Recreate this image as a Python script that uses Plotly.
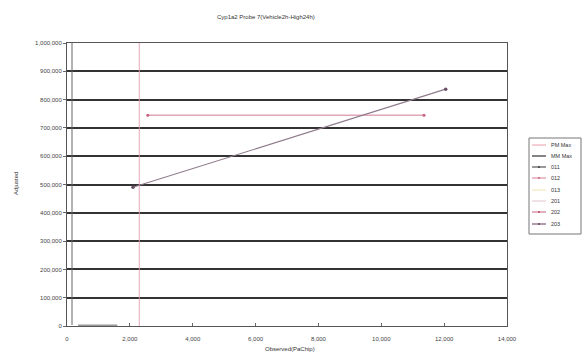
import plotly.graph_objects as go

# ---- data -------------------------------------------------------------
title_text = "Cyp1a2 Probe 7(Vehicle2h-High24h)"
x_title = "Observed(PaChip)"
y_title = "Adjusted"

legend_names = ["PM Max", "MM Max", "011", "012", "013", "201", "202", "203"]
legend_colors = ["#e8a0ac", "#333333", "#555555", "#d77a92", "#f0e6b0", "#e2c4d0", "#c8607e", "#7a5a78"]

pm_max_x = [2300, 2300]
pm_max_y = [0, 1000000]

s011_x = [350, 900, 1600]
s011_y = [3000, 4000, 3000]

s202_x = [2570, 11360]
s202_y = [745000, 745000]

s203_x = [2100, 12050]
s203_y = [490000, 837000]

x_ticks = list(range(0, 14001, 2000))
y_ticks = list(range(0, 1000001, 100000))

# ---- layout geometry (pixels) -------------------------------------------
W, H = 582, 355
L, R, T, B = 67, 75, 43, 29
PW, PH = W - L - R, H - T - B


def px(xp):
    return (xp - L) / PW


def py(yp):
    return (H - B - yp) / PH


font = dict(family="Liberation Sans, Arial, sans-serif", size=6, color="#444444")

fig = go.Figure()

fig.add_trace(go.Scatter(x=pm_max_x, y=pm_max_y, mode="lines",
                         line=dict(color="#e4a2b0", width=0.9), name="PM Max"))
fig.add_trace(go.Scatter(x=s011_x, y=s011_y, mode="lines",
                         line=dict(color="#666666", width=1), name="011"))
fig.add_trace(go.Scatter(x=s202_x, y=s202_y, mode="lines+markers",
                         line=dict(color="#d07a92", width=1),
                         marker=dict(size=3, color="#c8607e"), name="202"))
fig.add_trace(go.Scatter(x=s203_x, y=s203_y, mode="lines+markers",
                         line=dict(color="#8e7a8c", width=1.1),
                         marker=dict(size=3.5, color="#6a5066"), name="203"))

fig.update_xaxes(range=[0, 14000], tickvals=x_ticks,
                 ticktext=[f"{v:,}" for v in x_ticks],
                 showgrid=False, zeroline=False, showline=True, mirror=True,
                 linecolor="#555555", linewidth=1, ticks="inside", ticklen=3,
                 tickcolor="#666666", tickfont=font, automargin=False,
                 ticklabelstandoff=7)
fig.update_yaxes(range=[0, 1000000], tickvals=y_ticks,
                 ticktext=[f"{v:,}" for v in y_ticks],
                 showgrid=True, gridcolor="#333333", gridwidth=1.5,
                 zeroline=False, showline=True, mirror=True,
                 linecolor="#555555", linewidth=1, ticks="outside", ticklen=3,
                 tickcolor="#666666", tickfont=font, automargin=False)

shapes = []
annotations = []

# inner axis line alongside the plot border
shapes.append(dict(type="line", xref="paper", yref="paper",
                   x0=px(72), x1=px(72), y0=py(325), y1=py(43),
                   line=dict(color="#666666", width=1)))

# legend box
lx0, lx1, ly0, ly1 = 529, 581, 138, 234
shapes.append(dict(type="rect", xref="paper", yref="paper",
                   x0=px(lx0), x1=px(lx1), y0=py(ly1), y1=py(ly0),
                   line=dict(color="#777777", width=1), fillcolor="white"))
row_y = [145, 156, 167, 178, 190, 201, 212, 224]
markers_on = {"011", "012", "202", "203"}
for name, col, yy in zip(legend_names, legend_colors, row_y):
    shapes.append(dict(type="line", xref="paper", yref="paper",
                       x0=px(532), x1=px(546), y0=py(yy), y1=py(yy),
                       line=dict(color=col, width=1.2 if name in ("MM Max", "011", "203") else 1)))
    if name in markers_on:
        shapes.append(dict(type="rect", xref="paper", yref="paper",
                           x0=px(538), x1=px(540), y0=py(yy + 1), y1=py(yy - 1),
                           line=dict(width=0), fillcolor=col))
    annotations.append(dict(text=name, xref="paper", yref="paper",
                            x=px(549), y=py(yy), xanchor="left", yanchor="middle",
                            showarrow=False, font=dict(family=font["family"], size=5.5, color="#333333")))

annotations.append(dict(text=title_text, xref="paper", yref="paper",
                        x=px(266), y=py(17), xanchor="center", yanchor="middle",
                        showarrow=False, font=dict(family=font["family"], size=6, color="#333333")))
annotations.append(dict(text=y_title, xref="paper", yref="paper",
                        x=px(16), y=py(184), xanchor="center", yanchor="middle",
                        textangle=-90, showarrow=False,
                        font=dict(family=font["family"], size=6, color="#333333")))
annotations.append(dict(text=x_title, xref="paper", yref="paper",
                        x=px(290), y=py(349), xanchor="center", yanchor="middle",
                        showarrow=False,
                        font=dict(family=font["family"], size=6, color="#333333")))

fig.update_layout(width=W, height=H, margin=dict(l=L, r=R, t=T, b=B),
                  plot_bgcolor="white", paper_bgcolor="white",
                  showlegend=False, shapes=shapes, annotations=annotations)

fig.write_html("out.html")
